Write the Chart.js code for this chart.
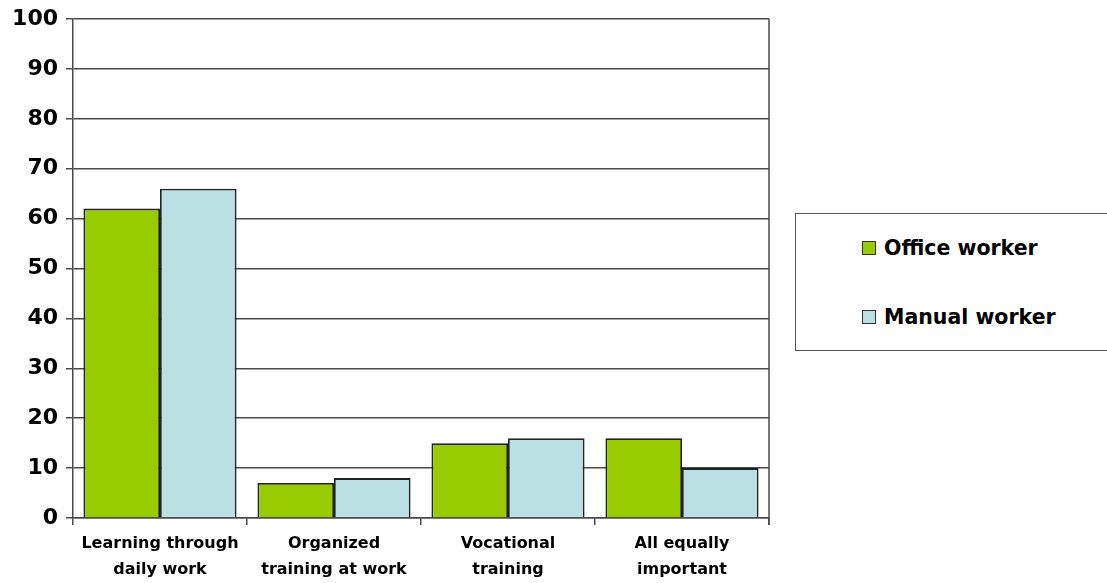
<!DOCTYPE html>
<html>
<head>
<meta charset="utf-8">
<script src="https://cdn.jsdelivr.net/npm/chart.js@4/dist/chart.umd.min.js"></script>
<style>
  html, body { margin: 0; padding: 0; background: #fff; }
  #wrap { position: relative; width: 1107px; height: 583px; overflow: hidden; }
  #legend {
    position: absolute; left: 795px; top: 213px; width: 330px; height: 138px;
    border: 1px solid #555; box-sizing: border-box; background: #fff;
    font-family: "DejaVu Sans", sans-serif; font-weight: bold; font-size: 20.5px; color: #000;
  }
  .item { position: absolute; left: 66px; height: 22px; line-height: 22px; white-space: nowrap; }
  .swatch { display: inline-block; width: 12px; height: 12px; border: 1px solid #333; vertical-align: 0px; margin-right: 8px; }
</style>
</head>
<body>
<div id="wrap">
  <canvas id="chart" width="1107" height="583"></canvas>
  <div id="legend"></div>
</div>
<script>
// Categories (multi-line axis labels)
const categories = [
  ['Learning through', 'daily work'],
  ['Organized', 'training at work'],
  ['Vocational', 'training'],
  ['All equally', 'important']
];
const seriesNames = ['Office worker', 'Manual worker'];
const officeWorker = [62, 7, 15, 16];
const manualWorker = [66, 8, 16, 10];
const seriesColors = ['#99CC00', '#BBE0E3'];
const yMin = 0, yMax = 100, yStep = 10;

const lineColor = '#4a4a4a';

// Closes the plot area on the right side
const rightEdge = {
  id: 'rightEdge',
  afterDraw(chart) {
    const { ctx, chartArea } = chart;
    ctx.save();
    ctx.strokeStyle = lineColor;
    ctx.lineWidth = 1.5;
    ctx.beginPath();
    ctx.moveTo(chartArea.right, chartArea.top);
    ctx.lineTo(chartArea.right, chartArea.bottom + 7);
    ctx.stroke();
    ctx.restore();
  }
};

const chart = new Chart(document.getElementById('chart'), {
  type: 'bar',
  data: {
    labels: categories,
    datasets: [
      { label: seriesNames[0], data: officeWorker, backgroundColor: seriesColors[0], borderColor: '#222', borderWidth: 1.8 },
      { label: seriesNames[1], data: manualWorker, backgroundColor: seriesColors[1], borderColor: '#222', borderWidth: 1.8 }
    ]
  },
  options: {
    responsive: false,
    animation: false,
    layout: { padding: { top: 18, right: 338, left: 0, bottom: 0 } },
    datasets: { bar: { categoryPercentage: 0.88, barPercentage: 1.0 } },
    plugins: { legend: { display: false }, tooltip: { enabled: false } },
    scales: {
      x: {
        afterFit(axis) { axis.height = 65; },
        grid: { offset: true, drawOnChartArea: false, drawTicks: true, tickLength: 7, color: lineColor, lineWidth: 1.5 },
        border: { display: true, color: lineColor, width: 1.5 },
        ticks: {
          color: '#000', padding: 6, maxRotation: 0, autoSkip: false,
          font: { family: 'DejaVu Sans', weight: 'bold', size: 16, lineHeight: 1.6 }
        }
      },
      y: {
        min: yMin, max: yMax,
        afterFit(axis) { axis.width = 73; },
        grid: { color: lineColor, lineWidth: 1.5, tickLength: 7, drawTicks: true },
        border: { display: true, color: lineColor, width: 1.5 },
        ticks: {
          stepSize: yStep, color: '#000', padding: 8,
          font: { family: 'DejaVu Sans', weight: 'bold', size: 22, lineHeight: 1 }
        }
      }
    }
  },
  plugins: [rightEdge]
});

// Legend box built from the series names and colours
const legend = document.getElementById('legend');
seriesNames.forEach((name, i) => {
  const item = document.createElement('div');
  item.className = 'item';
  item.style.top = (i === 0 ? 23 : 92) + 'px';
  const sw = document.createElement('span');
  sw.className = 'swatch';
  sw.style.background = seriesColors[i];
  item.appendChild(sw);
  item.appendChild(document.createTextNode(name));
  legend.appendChild(item);
});
</script>
</body>
</html>
